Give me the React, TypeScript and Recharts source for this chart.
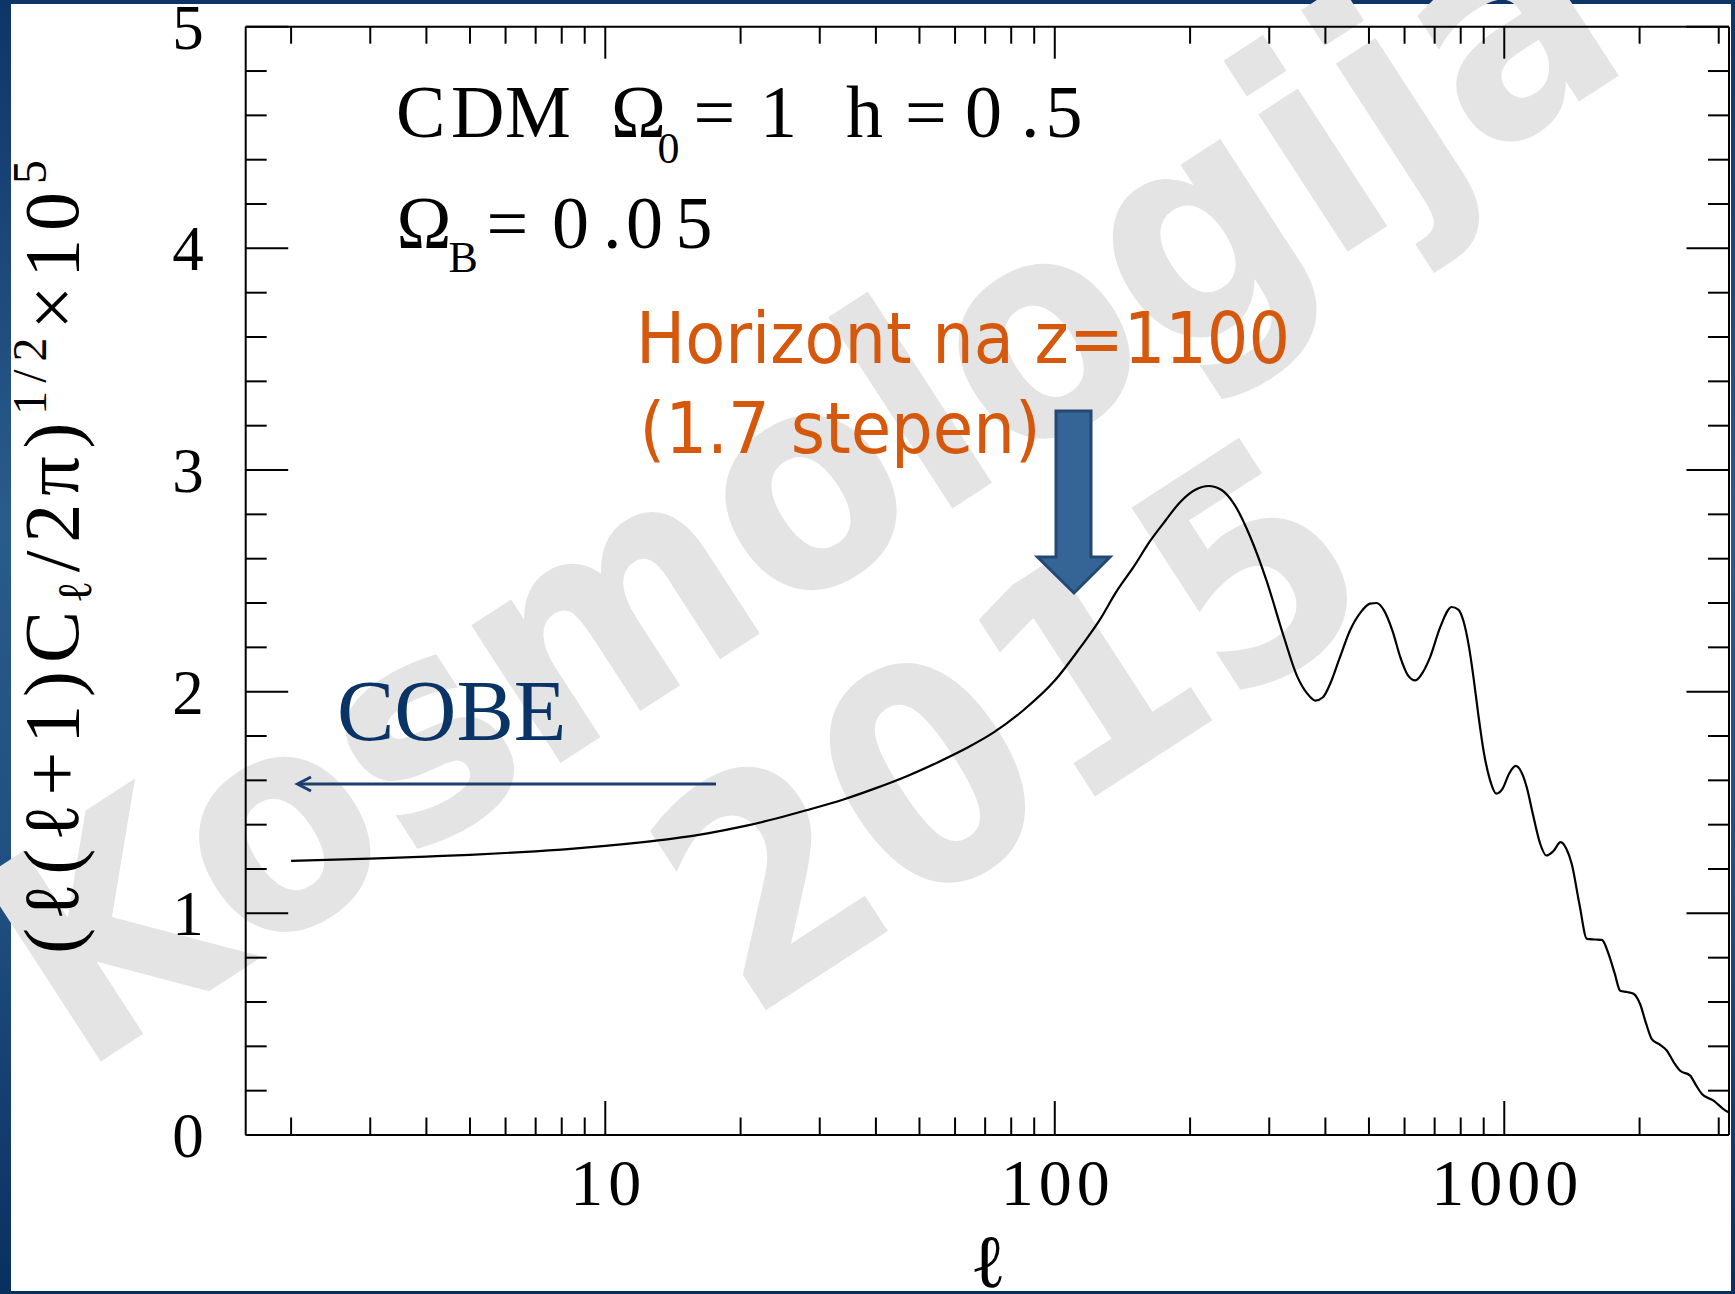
import { LineChart, Line, XAxis, YAxis } from "recharts";

// multipole l and (l(l+1)C_l/2pi)^(1/2) x 10^5 for the CDM model
const ells = [
  2, 3, 4, 5, 6.5, 8.5, 10, 12, 14, 17, 20, 24, 28, 34, 40, 47, 55, 64, 73, 85,
  100, 114, 126, 137, 150, 163, 176, 190, 205, 220, 235, 250, 272, 296, 323, 346,
  365, 380, 395, 410, 430, 454, 480, 503, 520, 540, 565, 587, 610, 634, 660, 684,
  720, 764, 790, 811, 835, 854, 875, 899, 930, 960, 990, 1025, 1060, 1090, 1122,
  1160, 1202, 1240, 1285, 1335, 1375, 1413, 1470, 1527, 1590, 1649, 1706, 1760,
  1811, 1875, 1939, 2005, 2070, 2129, 2210, 2299, 2380, 2462, 2592, 2670, 2752,
  2921, 3074, 3155,
];
const spectrum = [
  1.237, 1.247, 1.256, 1.264, 1.276, 1.292, 1.304, 1.32, 1.336, 1.362, 1.39, 1.428,
  1.465, 1.515, 1.565, 1.62, 1.682, 1.748, 1.815, 1.915, 2.05, 2.2, 2.325, 2.45,
  2.565, 2.68, 2.77, 2.855, 2.91, 2.928, 2.91, 2.85, 2.7, 2.5, 2.25, 2.07, 1.99,
  1.96, 1.975, 2.036, 2.15, 2.277, 2.36, 2.397, 2.4, 2.367, 2.27, 2.156, 2.075,
  2.051, 2.09, 2.156, 2.29, 2.382, 2.37, 2.32, 2.2, 2.066, 1.9, 1.735, 1.6, 1.54,
  1.56, 1.63, 1.665, 1.64, 1.569, 1.44, 1.314, 1.261, 1.28, 1.321, 1.29, 1.223,
  1.04, 0.885, 0.882, 0.88, 0.817, 0.73, 0.651, 0.645, 0.637, 0.591, 0.5, 0.433,
  0.41, 0.381, 0.33, 0.29, 0.268, 0.225, 0.185, 0.155, 0.117, 0.102,
];

const xTicks = [
  2, 3, 4, 5, 6, 7, 8, 9, 10, 20, 30, 40, 50, 60, 70, 80, 90, 100, 200, 300, 400,
  500, 600, 700, 800, 900, 1000, 2000, 3000,
];
const xLabels = [10, 100, 1000];
const yTicks = [
  0, 0.2, 0.4, 0.6, 0.8, 1, 1.2, 1.4, 1.6, 1.8, 2, 2.2, 2.4, 2.6, 2.8, 3, 3.2, 3.4,
  3.6, 3.8, 4, 4.2, 4.4, 4.6, 4.8, 5,
];
const yLabels = [0, 1, 2, 3, 4, 5];

const data = ells.map((l, i) => ({ l, v: spectrum[i] }));

const SERIF = "Liberation Serif, Times New Roman, serif";
const SANS = "DejaVu Sans, Verdana, sans-serif";
const ORANGE = "#D5580C";
const NAVY = "#0B3466";

const BottomTick = (props: any) => {
  const { x, y, payload } = props;
  const major = xLabels.includes(payload.value);
  return (
    <g>
      <line x1={x} x2={x} y1={y} y2={y - (major ? 34 : 17.5)} stroke="#000" strokeWidth={2} />
      {major && (
        <text x={x + 3} y={y + 70} textAnchor="middle" fontFamily={SERIF} fontSize={66} letterSpacing={5} fill="#000">
          {payload.value}
        </text>
      )}
    </g>
  );
};

const TopTick = (props: any) => {
  const { x, y, payload } = props;
  const major = xLabels.includes(payload.value);
  return <line x1={x} x2={x} y1={y} y2={y + (major ? 32 : 17)} stroke="#000" strokeWidth={2} />;
};

const LeftTick = (props: any) => {
  const { x, y, payload } = props;
  const major = yLabels.includes(payload.value);
  return (
    <g>
      <line x1={x} x2={x + (major ? 42.5 : 21)} y1={y} y2={y} stroke="#000" strokeWidth={2} />
      {major && (
        <text x={188} y={y + 22} textAnchor="middle" fontFamily={SERIF} fontSize={63} fill="#000">
          {payload.value}
        </text>
      )}
    </g>
  );
};

const RightTick = (props: any) => {
  const { x, y, payload } = props;
  const major = yLabels.includes(payload.value);
  return <line x1={x} x2={x - (major ? 42.5 : 21)} y1={y} y2={y} stroke="#000" strokeWidth={2} />;
};

const axisLine = { stroke: "#000", strokeWidth: 2 };
const xDomain: [number, number] = [1.585, 3162];

export default function App() {
  return (
    <div
      style={{
        position: "relative",
        width: 1735,
        height: 1294,
        overflow: "hidden",
        background: "linear-gradient(180deg, #0E3568 0%, #2A5B8D 40%, #1F4E80 70%, #08305F 100%)",
      }}
    >
      <style>{"body{margin:0}"}</style>
      <div style={{ position: "absolute", left: 11, top: 4, width: 1720, height: 1287, background: "#fff" }} />

      {/* watermark */}
      <svg width={1735} height={1294} style={{ position: "absolute", left: 0, top: 0 }}>
        <g fill="#E4E4E4" fontFamily={SANS} fontWeight="bold">
          <text transform="translate(80,1075) rotate(-33) scale(0.9,1)" fontSize={300}>
            Kosmologija
          </text>
          <text transform="translate(1068,814) rotate(-33) scale(0.9,1)" fontSize={305} textAnchor="middle">
            2015
          </text>
        </g>
      </svg>

      <div style={{ position: "absolute", left: 0, top: 0 }}>
        <LineChart width={1735} height={1294} data={data} margin={{ top: 6.7, right: 2, bottom: 0, left: 0 }}>
          <XAxis
            dataKey="l"
            type="number"
            scale="log"
            domain={xDomain}
            allowDataOverflow
            ticks={xTicks}
            interval={0}
            height={159}
            tickSize={0}
            tickMargin={0}
            tickLine={false}
            axisLine={axisLine}
            tick={<BottomTick />}
          />
          <XAxis
            xAxisId="top"
            orientation="top"
            dataKey="l"
            type="number"
            scale="log"
            domain={xDomain}
            allowDataOverflow
            ticks={xTicks}
            interval={0}
            height={20}
            tickSize={0}
            tickMargin={0}
            tickLine={false}
            axisLine={axisLine}
            tick={<TopTick />}
          />
          <YAxis
            type="number"
            domain={[0, 5]}
            allowDataOverflow
            ticks={yTicks}
            interval={0}
            width={245.7}
            tickSize={0}
            tickMargin={0}
            tickLine={false}
            axisLine={axisLine}
            tick={<LeftTick />}
          />
          <YAxis
            yAxisId="right"
            orientation="right"
            type="number"
            domain={[0, 5]}
            allowDataOverflow
            ticks={yTicks}
            interval={0}
            width={4}
            tickSize={0}
            tickMargin={0}
            tickLine={false}
            axisLine={axisLine}
            tick={<RightTick />}
          />
          <Line
            dataKey="v"
            type="monotone"
            stroke="#000"
            strokeWidth={2.2}
            dot={false}
            activeDot={false}
            isAnimationActive={false}
          />
        </LineChart>
      </div>

      {/* labels and annotations */}
      <svg width={1735} height={1294} style={{ position: "absolute", left: 0, top: 0 }}>
        <text
          transform="translate(78,557) rotate(-90)"
          textAnchor="middle"
          fontFamily={SERIF}
          fontSize={78}
          textLength={794}
          lengthAdjust="spacing"
          fill="#000"
        >
          (ℓ(ℓ+1)C
          <tspan fontSize={48} dy={13}>ℓ</tspan>
          <tspan dy={-13}>/2π)</tspan>
          <tspan fontSize={48} dy={-32}>1/2</tspan>
          <tspan dy={32}>×10</tspan>
          <tspan fontSize={48} dy={-32}>5</tspan>
        </text>
        <text x={988} y={1287} textAnchor="middle" fontFamily={SERIF} fontSize={75} fill="#000">
          ℓ
        </text>

        <g fontFamily={SERIF} fill="#000">
          <text y={137} fontSize={74}>
            <tspan x="396 451 505">CDM</tspan>
            <tspan x="611">Ω</tspan>
            <tspan x="657.5" dy={26} fontSize={44}>0</tspan>
            <tspan x="693.5 760" dy={-26}>=1</tspan>
            <tspan x="846 905 965 1021 1045.5">h=0.5</tspan>
          </text>
          <text y={248} fontSize={74}>
            <tspan x="396.5">Ω</tspan>
            <tspan x="448.5" dy={24} fontSize={44}>B</tspan>
            <tspan x="486.5 552 603 626 675.5" dy={-24}>=0.05</tspan>
          </text>
        </g>

        <g fontFamily={SANS} fontSize={71} fill={ORANGE}>
          <text x={636} y={362.7} textLength={654} lengthAdjust="spacingAndGlyphs">
            Horizont na z=1100
          </text>
          <text x={639.6} y={452.7} textLength={401} lengthAdjust="spacingAndGlyphs">
            (1.7 stepen)
          </text>
        </g>

        <polygon
          points="1056,411 1091,411 1091,557 1110,557 1074,593 1037.5,557 1056,557"
          fill="#346596"
          stroke="#234873"
          strokeWidth={3}
          strokeLinejoin="miter"
        />

        <text x={337} y={740} fontFamily={SERIF} fontSize={86} fill={NAVY}>
          COBE
        </text>
        <g stroke="#1C3E6C" strokeWidth={3} fill="none">
          <line x1={716} y1={784} x2={298} y2={784} />
          <polyline points="311,777 297.5,784 311,791" />
        </g>
      </svg>
    </div>
  );
}
